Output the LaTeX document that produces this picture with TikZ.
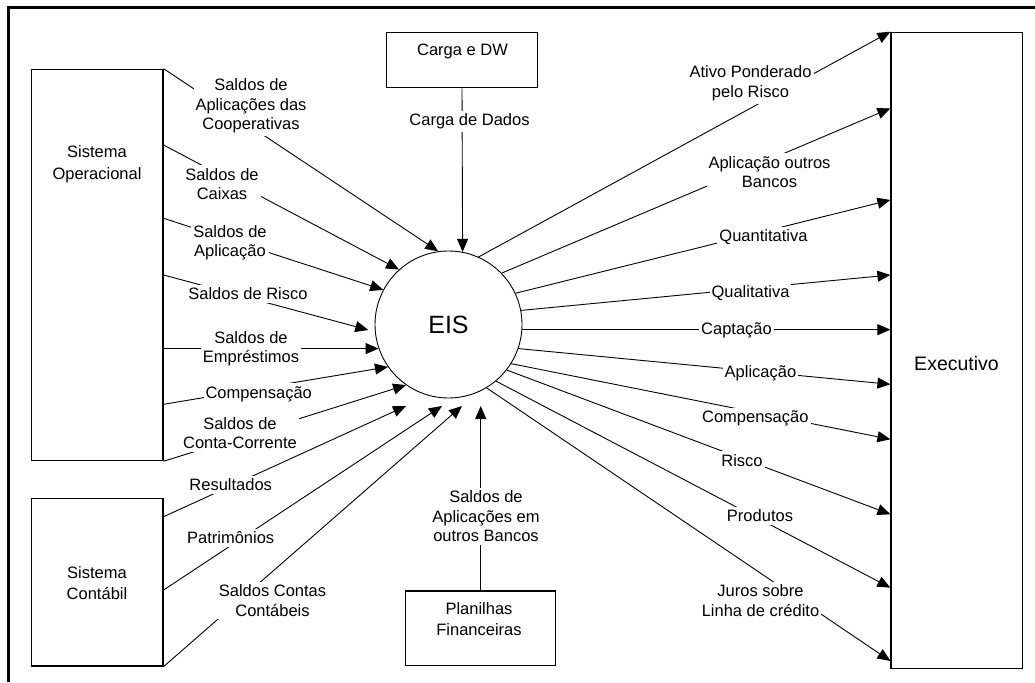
\documentclass[tikz,border=0pt]{standalone}
\usepackage{fontspec}
\setmainfont{Liberation Sans}
\usetikzlibrary{arrows.meta}
\newcommand{\lblfont}{\fontsize{16.5}{19.5}\selectfont}
\newcommand{\boxfont}{\fontsize{16.5}{21.5}\selectfont}

\begin{document}
\begin{tikzpicture}[x=1pt,y=-1pt,
  box/.style={draw, line width=1.2pt, inner sep=0pt},
  boxtxt/.style={align=center, font=\boxfont, inner sep=0pt},
  lbl/.style={fill=white, align=center, font=\lblfont, inner xsep=2pt, inner ysep=3pt},
  flow/.style={line width=0.9pt, -{Triangle[length=13pt,width=11pt]}},
]
\useasboundingbox (0,0) rectangle (1035,682);

% outer frame
\draw[line width=2.5pt] (8.3,682) -- (8.3,7.5) -- (1035,7.5);

% external entities
\node[box, minimum width=131.7pt, minimum height=391.4pt] (so) at (97.15,265) {};
\node[boxtxt] (so-t) at (97,164) {Sistema\\Operacional};
\node[box, minimum width=131.7pt, minimum height=167.7pt] (sc) at (97.15,582.15) {};
\node[boxtxt] (sc-t) at (97,583.3) {Sistema\\Contábil};
\node[box, minimum width=150.6pt, minimum height=55.4pt] (cdw) at (462,60) {};
\node[boxtxt] (cdw-t) at (462.5,51.7) {Carga e DW};
\node[box, minimum width=150pt, minimum height=74.3pt] (pf) at (480.7,628.15) {};
\node[boxtxt] (pf-t) at (479,619) {Planilhas\\Financeiras};
\node[box, minimum width=131.3pt, minimum height=636.4pt] (exe) at (956.65,350.5) {};
\node[boxtxt, font=\fontsize{19.5}{22}\selectfont] (exe-t) at (956.5,363.7) {Executivo};

% central process
\node[circle, draw, line width=0.9pt, minimum size=147pt, inner sep=0pt,
      font=\fontsize{25}{28}\selectfont] (eis) at (448.5,324.5) {EIS};

% end points of the inflows that stop short of the process
\coordinate (risco-in) at (368.3,330);
\coordinate (res-in) at (406,406);
\coordinate (pat-in) at (442,406);
\coordinate (scc-in) at (462,406);
\coordinate (pf-in) at (pf.north |- 0,406);

% inflows
\draw[flow] (so.north east) -- (eis.98);
\draw[flow] (so.east |- 0,145) -- (eis.132);
\draw[flow] (so.east |- 0,218.3) -- (eis.152);
\draw[flow] (so.east |- 0,275) -- (risco-in);
\draw[flow] (so.east |- eis.199) -- (eis.199);
\draw[flow] (so.east |- 0,404.3) -- (eis.215);
\draw[flow] (so.south east) -- (eis.235);
\draw[flow] (sc.east |- 0,516.7) -- (res-in);
\draw[flow] (sc.east |- 0,590) -- (pat-in);
\draw[flow] (sc.south east) -- (scc-in);
\draw[flow] (cdw.south) -- (eis.79.4);
\draw[flow] (pf.north) -- (pf-in);

% outflows
\draw[flow] (eis.66) -- (exe.north west);
\draw[flow] (eis.44) -- (exe.west |- 0,108.3);
\draw[flow] (eis.25) -- (exe.west |- 0,200);
\draw[flow] (eis.11) -- (exe.west |- 0,275);
\draw[flow] (eis.-4.3) -- (exe.west |- eis.-4.3);
\draw[flow] (eis.-19) -- (exe.west |- 0,384.3);
\draw[flow] (eis.-32) -- (exe.west |- 0,439.3);
\draw[flow] (eis.-38) -- (exe.west |- 0,514.3);
\draw[flow] (eis.-50) -- (exe.west |- 0,587.7);
\draw[flow] (eis.-59) -- (exe.west |- 0,661);

% flow labels
\node[lbl] (l-coop) at (251,106) {Saldos de\\Aplicações das\\Cooperativas};
\node[lbl] (l-caix) at (222,184) {Saldos de\\Caixas};
\node[lbl] (l-apl) at (230,243) {Saldos de\\Aplicação};
\node[lbl] (l-risc) at (248,294) {Saldos de Risco};
\node[lbl] (l-empr) at (251,348.7) {Saldos de\\Empréstimos};
\node[lbl] (l-comp) at (258.7,394) {Compensação};
\node[lbl] (l-cc) at (240,433) {Saldos de\\Conta-Corrente};
\node[lbl] (l-res) at (230.7,485) {Resultados};
\node[lbl] (l-pat) at (230.7,537.7) {Patrimônios};
\node[lbl] (l-scc) at (272.5,600.5) {Saldos Contas\\Contábeis};
\node[lbl] (l-cdd) at (469.5,121.7) {Carga de Dados};
\node[lbl] (l-pf) at (486,516.5) {Saldos de\\Aplicações em\\outros Bancos};

\node[lbl] (r-ativo) at (750.5,83.3) {Ativo Ponderado\\pelo Risco};
\node[lbl] (r-aob) at (769.5,172) {Aplicação outros\\Bancos};
\node[lbl] (r-quant) at (763.5,237.3) {Quantitativa};
\node[lbl] (r-qual) at (750.5,292.7) {Qualitativa};
\node[lbl] (r-capt) at (736.5,330) {Captação};
\node[lbl] (r-apl) at (760.5,373.7) {Aplicação};
\node[lbl] (r-comp) at (755.3,418.7) {Compensação};
\node[lbl] (r-risc) at (742,460.3) {Risco};
\node[lbl] (r-prod) at (760,516) {Produtos};
\node[lbl] (r-juros) at (760.5,600.5) {Juros sobre\\Linha de crédito};
\end{tikzpicture}
\end{document}
